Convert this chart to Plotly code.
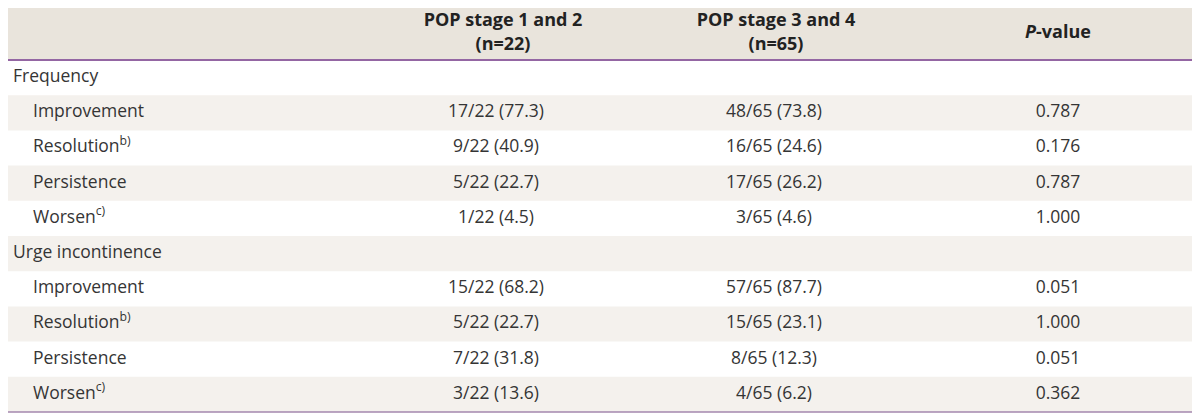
import plotly.graph_objects as go

# table content
headers = ["", "POP stage 1 and 2<br>(n=22)", "POP stage 3 and 4<br>(n=65)", "<i>P</i>-value"]
labels = ["Frequency", "Improvement", "Resolution<sup>b)</sup>", "Persistence", "Worsen<sup>c)</sup>",
          "Urge incontinence", "Improvement", "Resolution<sup>b)</sup>", "Persistence", "Worsen<sup>c)</sup>"]
is_group = [True, False, False, False, False, True, False, False, False, False]
stage12 = ["", "17/22 (77.3)", "9/22 (40.9)", "5/22 (22.7)", "1/22 (4.5)",
           "", "15/22 (68.2)", "5/22 (22.7)", "7/22 (31.8)", "3/22 (13.6)"]
stage34 = ["", "48/65 (73.8)", "16/65 (24.6)", "17/65 (26.2)", "3/65 (4.6)",
           "", "57/65 (87.7)", "15/65 (23.1)", "8/65 (12.3)", "4/65 (6.2)"]
pvals = ["", "0.787", "0.176", "0.787", "1.000", "", "0.051", "1.000", "0.051", "0.362"]

W, H = 1200, 415
OFF = 8  # page body margin, so axis units equal window pixels
left, right = 5, 1194
top, head_bot = 3, 60
row_h = 35.2
col_x = [None, 496, 774, 1058]
head_x = [503, 776, 1058]

FONT = "Open Sans"
TXT = "#353535"

ys = [head_bot + row_h * (i + 0.5) for i in range(len(labels))]
head_y = (top + head_bot) / 2 + 2

fig = go.Figure()

shapes = []
# header background
shapes.append(dict(type="rect", xref="x", yref="y", x0=left, x1=right, y0=top, y1=head_bot,
                   fillcolor="#e9e4dc", line_width=0, layer="below"))
# alternating row shading
for i in range(len(labels)):
    if i % 2 == 1:
        shapes.append(dict(type="rect", xref="x", yref="y", x0=left, x1=right,
                           y0=head_bot + row_h * i, y1=head_bot + row_h * (i + 1),
                           fillcolor="#f4f1ed", line_width=0, layer="below"))
# rules
shapes.append(dict(type="line", xref="x", yref="y", x0=left, x1=right, y0=top, y1=top,
                   line=dict(color="#9466a3", width=2)))
shapes.append(dict(type="line", xref="x", yref="y", x0=left, x1=right, y0=head_bot, y1=head_bot,
                   line=dict(color="#9466a3", width=2)))
bot = head_bot + row_h * len(labels)
shapes.append(dict(type="line", xref="x", yref="y", x0=left, x1=right, y0=bot, y1=bot,
                   line=dict(color="#a587ae", width=1.5)))

# first column labels
lab_x = [13 if g else 33 for g in is_group]
fig.add_trace(go.Scatter(x=lab_x, y=ys, text=labels, mode="text", textposition="middle right",
                         textfont=dict(family=FONT, size=17.5, color=TXT), hoverinfo="skip"))
for cx, col in zip(col_x[1:], [stage12, stage34, pvals]):
    keep = [i for i, t in enumerate(col) if t]
    fig.add_trace(go.Scatter(x=[cx] * len(keep), y=[ys[i] for i in keep],
                             text=[col[i] for i in keep], mode="text",
                             textposition="middle center",
                             textfont=dict(family=FONT, size=17.5, color=TXT), hoverinfo="skip"))
# header
fig.add_trace(go.Scatter(x=head_x, y=[head_y] * 3, text=headers[1:], mode="text",
                         textposition="middle center",
                         textfont=dict(family=FONT, size=18, color="#222222", weight="bold"),
                         hoverinfo="skip"))

fig.update_layout(
    width=W, height=H, margin=dict(l=0, r=0, t=0, b=0),
    paper_bgcolor="white", plot_bgcolor="white", showlegend=False, shapes=shapes,
    xaxis=dict(range=[OFF, W + OFF], visible=False, fixedrange=True),
    yaxis=dict(range=[H + OFF, OFF], visible=False, fixedrange=True),
)

fig.write_html("out.html")
